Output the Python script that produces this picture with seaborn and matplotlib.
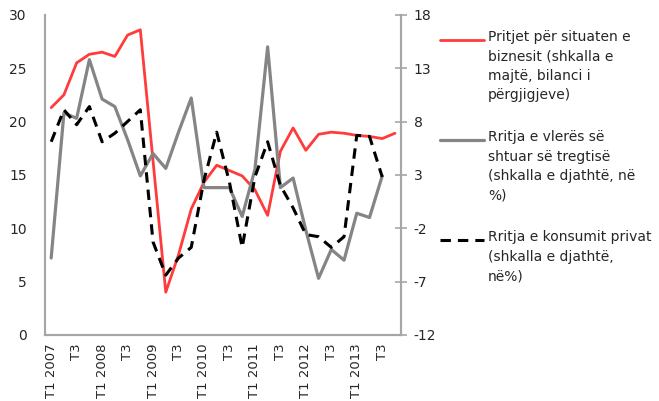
import numpy as np
import pandas as pd
import matplotlib
matplotlib.use("Agg")
import matplotlib.pyplot as plt
import seaborn as sns
from matplotlib.lines import Line2D

# Quarterly data, T1 2007 - T4 2013
quarters = [f"T{q} {y}" for y in range(2007, 2014) for q in range(1, 5)]
tick_labels = []
for y in range(2007, 2014):
    tick_labels += [f"T1 {y}", "T3"]

# Business expectations (left scale, balance of responses)
pritjet = [21.3, 22.5, 25.5, 26.3, 26.5, 26.1, 28.1, 28.6, 16.3, 4.0,
           7.5, 11.8, 14.3, 15.9, 15.4, 14.9, 13.6, 11.2, 17.2, 19.4,
           17.3, 18.8, 19.0, 18.9, 18.7, 18.6, 18.4, 18.9]
# Growth of trade value added (right scale, %)
tregtia = [-4.8, 8.8, 8.3, 13.8, 10.1, 9.4, 6.3, 2.9, 5.0, 3.6,
           7.0, 10.2, 1.8, 1.8, 1.8, -0.9, 3.5, 15.0, 1.8, 2.7,
           -2.2, -6.7, -4.0, -5.0, -0.6, -1.0, 2.9, np.nan]
# Growth of private consumption (right scale, %)
konsumi = [6.1, 9.1, 7.7, 9.4, 6.1, 6.9, 8.0, 9.1, -3.3, -6.4,
           -4.8, -3.8, 2.5, 7.0, 2.3, -3.8, 2.8, 6.1, 2.0, -0.1,
           -2.6, -2.8, -3.8, -2.8, 6.7, 6.6, 2.8, np.nan]

df = pd.DataFrame({"pos": range(len(quarters)), "quarter": quarters,
                   "pritjet": pritjet, "tregtia": tregtia, "konsumi": konsumi})

sns.set_style("white")
plt.rcParams["font.family"] = ["DejaVu Sans"]
plt.rcParams["axes.unicode_minus"] = False

red = "#FF3B3B"
gray = "#858585"
spine_col = "#A6A6A6"

fig = plt.figure(figsize=(6.59, 4.01), dpi=100)
ax = fig.add_axes([0.068, 0.165, 0.541, 0.798])
ax2 = ax.twinx()

sns.lineplot(data=df, x="pos", y="pritjet", ax=ax, color=red, linewidth=2.0)
sns.lineplot(data=df, x="pos", y="tregtia", ax=ax2, color=gray, linewidth=2.3)
sns.lineplot(data=df, x="pos", y="konsumi", ax=ax2, color="black", linewidth=2.2,
             linestyle=(0, (3.4, 2.3)))

ax.set_xlim(-0.5, len(quarters) - 0.5)
ax.set_ylim(0, 30)
ax2.set_ylim(-12, 18)
ax.set_yticks(range(0, 31, 5))
ax2.set_yticks(range(-12, 19, 5))
ax.set_xticks(range(0, len(quarters), 2))
ax.set_xticklabels(tick_labels, rotation=90)
ax.set_xlabel("")
ax.set_ylabel("")
ax2.set_ylabel("")

for a in (ax, ax2):
    for s in a.spines.values():
        s.set_color(spine_col)
        s.set_linewidth(1.5)
    a.spines["top"].set_visible(False)

ax.tick_params(axis="y", length=0, pad=13, labelsize=10)
ax.tick_params(axis="x", length=0, pad=6, labelsize=9.5)
ax2.tick_params(axis="y", direction="inout", length=8, width=1.2, color=spine_col,
                pad=5, labelsize=10, right=True)

# legend drawn beside the plot, handle aligned with first text line
entries = [
    (red, "-", 2.0, 40, "Pritjet për situaten e\nbiznesit (shkalla e\nmajtë, bilanci i\npërgjigjeve)"),
    (gray, "-", 2.3, 140, "Rritja e vlerës së\nshtuar së tregtisë\n(shkalla e djathtë, në\n%)"),
    ("black", (0, (3.4, 2.3)), 2.2, 240, "Rritja e konsumit privat\n(shkalla e djathtë,\nnë%)"),
]
W, H = 659, 401
for col, ls, lw, ypix, label in entries:
    fig.add_artist(Line2D([440 / W, 484 / W], [1 - ypix / H, 1 - ypix / H],
                          color=col, linestyle=ls, linewidth=lw))
    fig.text(488 / W, 1 - (ypix - 10) / H, label, ha="left", va="top",
             fontsize=10, linespacing=1.5)

fig.savefig("out.png", dpi=100)
